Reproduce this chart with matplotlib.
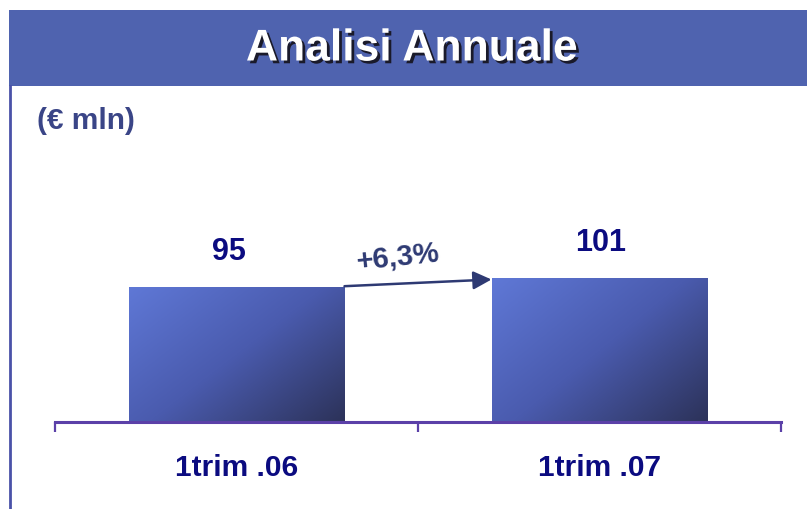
import numpy as np
import matplotlib
matplotlib.use("Agg")
import matplotlib.pyplot as plt
from matplotlib.patches import Rectangle
from matplotlib.lines import Line2D
import matplotlib.patheffects as pe
from matplotlib.colors import LinearSegmentedColormap
from matplotlib.transforms import blended_transform_factory, offset_copy

categories = ["1trim .06", "1trim .07"]
values = [95, 101]
value_labels = ["95", "101"]
growth_label = "+6,3%"
title = "Analisi Annuale"
unit_label = "(€ mln)"

plt.rcParams['font.family'] = ['Liberation Sans', 'DejaVu Sans']

W, H = 807, 510
fig = plt.figure(figsize=(W / 100, H / 100), dpi=100)
fig.patch.set_facecolor("white")

def fx(px):
    return px / W

def fy(py):
    return 1 - py / H

# banner
fig.patches.append(Rectangle((fx(9), fy(87)), fx(807) - fx(9), fy(11) - fy(87),
                             transform=fig.transFigure, facecolor="#4F63AF",
                             edgecolor="none", zorder=0))
fig.text(fx(412), fy(50), title, color="white", fontsize=32, fontweight="bold",
         ha="center", va="center",
         path_effects=[pe.withSimplePatchShadow(offset=(2, -2), shadow_rgbFace="#1a1a2a", alpha=1.0)])

# left vertical line
fig.lines.append(Line2D([fx(10), fx(10)], [fy(87), fy(510)], transform=fig.transFigure,
                        color="#4A52A8", linewidth=2))

fig.text(fx(37), fy(121), unit_label, color="#3A4587", fontsize=21.5, fontweight="bold",
         ha="left", va="center")

# axes
ax_left, ax_right = 55, 781
ax_bottom, ax_top = 423, 150
ax = fig.add_axes([fx(ax_left), fy(ax_bottom), fx(ax_right) - fx(ax_left), fy(ax_top) - fy(ax_bottom)])
ylim_top = (ax_bottom - ax_top) / 1.425
ax.patch.set_alpha(0)
for s in ["top", "right", "left"]:
    ax.spines[s].set_visible(False)
ax.spines["bottom"].set_color("#5B40A8")
ax.spines["bottom"].set_linewidth(2.2)
ax.set_yticks([])
ax.set_xticks([-0.5, 0.5, 1.5])
ax.set_xticklabels([])
ax.tick_params(axis="x", direction="out", length=7, width=1.6, color="#5B40A8")

cmap = LinearSegmentedColormap.from_list("bar", ["#5F78D6", "#4A5BAE", "#2C3259"])
xx, yy = np.meshgrid(np.linspace(0, 1, 200), np.linspace(0, 1, 200))
grad = xx * 0.55 + yy * 0.45  # row 0 is top: top-left light -> bottom-right dark

bar_width = 0.595
x_pos = np.arange(len(categories))
bars = ax.bar(x_pos, values, width=bar_width, color="none", edgecolor="none", zorder=2)
for b in bars:
    x0, w, h = b.get_x(), b.get_width(), b.get_height()
    im = ax.imshow(grad, cmap=cmap, extent=[x0, x0 + w, 0, h], origin="upper",
                   aspect="auto", zorder=2, vmin=0, vmax=1)
    im.set_clip_path(b)

ax.set_xlim(-0.5, 1.5)
ax.set_ylim(0, ylim_top)

for xi, v, lab in zip(x_pos, values, value_labels):
    ax.annotate(lab, (xi - 0.02 if xi == 0 else xi + 0.003, v), xytext=(0, 26), textcoords="offset points",
                ha="center", va="center", color="#0B0B80", fontsize=22, fontweight="bold")

trans = blended_transform_factory(ax.transData, ax.transAxes)
for xi, c in zip(x_pos, categories):
    ax.text(xi, 0, c, transform=offset_copy(trans, fig=fig, x=0, y=-45 * 0.72, units="points"),
            ha="center", va="center", color="#0B0B80", fontsize=21.5, fontweight="bold")

# growth arrow
x_start = x_pos[0] + bar_width / 2
x_end = x_pos[1] - bar_width / 2
ax.annotate("", xy=(x_end, values[1] - 1), xytext=(x_start, values[0] + 0.3),
            arrowprops=dict(arrowstyle="-|>,head_length=1.1,head_width=0.55", color="#2E3A73",
                            lw=1.8, shrinkA=0, shrinkB=0), zorder=3)
ax.text((x_start + x_end) / 2 - 0.055, values[0] + 21, growth_label, color="#2E3A73", fontsize=21,
        fontweight="bold", ha="center", va="center", rotation=6)

fig.savefig("out.png", dpi=100, facecolor="white")
